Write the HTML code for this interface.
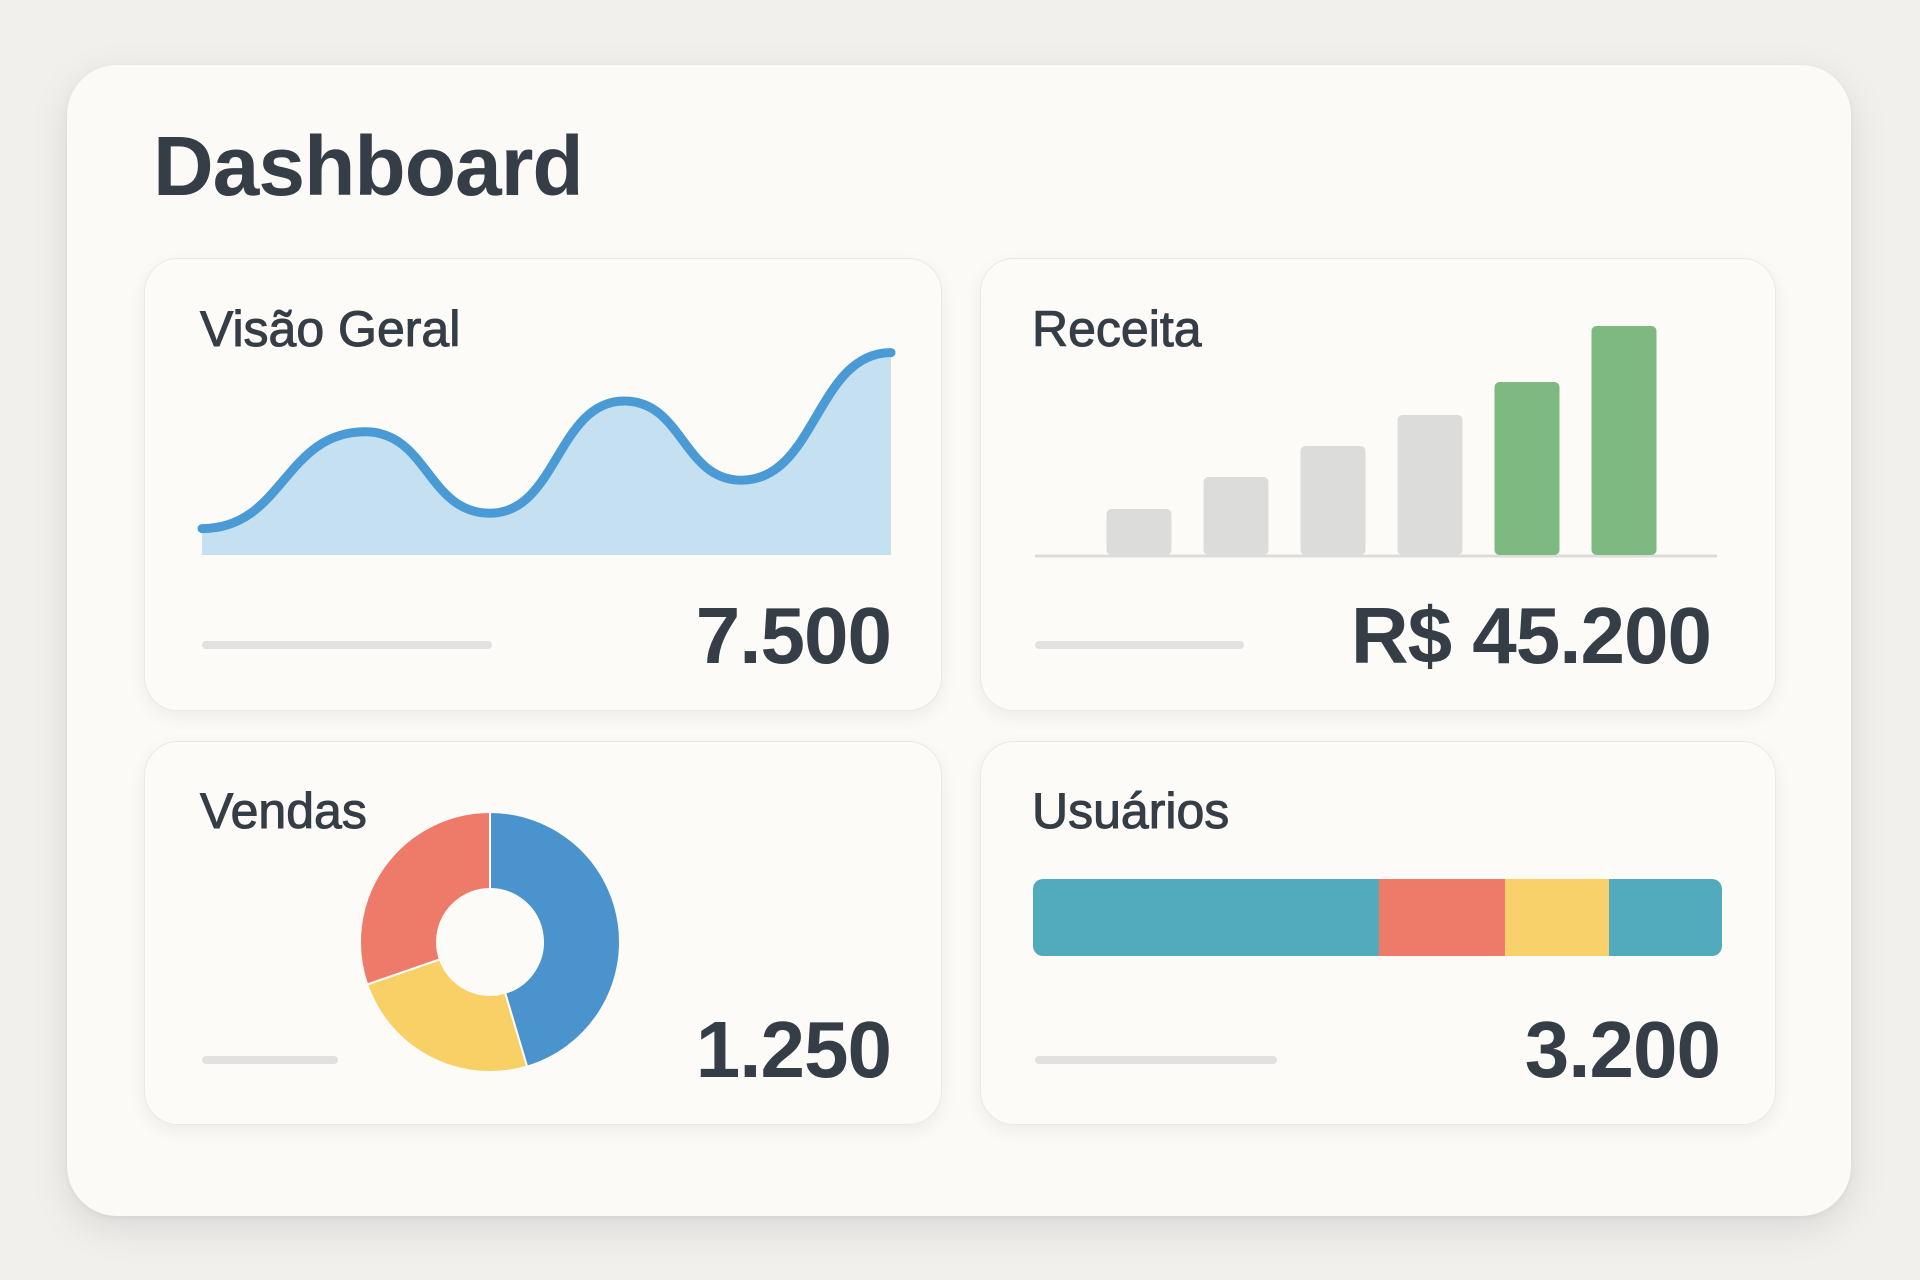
<!DOCTYPE html>
<html><head><meta charset="utf-8"><style>
html,body{margin:0;padding:0}
body{width:1920px;height:1280px;background:#f1f0ed;position:relative;overflow:hidden;font-family:"Liberation Sans",sans-serif;color:#353d46}
.outer{position:absolute;left:67px;top:65px;width:1784px;height:1151px;background:#fbfaf6;border-radius:50px;box-shadow:0 12px 40px rgba(0,0,0,0.10),0 2px 6px rgba(0,0,0,0.05)}
.title{position:absolute;left:153px;top:118px;font-size:84px;font-weight:bold;letter-spacing:-1px;margin:0}
.card{position:absolute;background:#fcfbf8;border-radius:34px;border:1px solid #ebe9e5;box-shadow:0 6px 18px rgba(0,0,0,0.06)}
.ct{position:absolute;font-size:50px;-webkit-text-stroke:1px #353d46;white-space:nowrap}
.val{position:absolute;font-size:80px;font-weight:bold;text-align:right;white-space:nowrap;letter-spacing:-1px}
.pill{position:absolute;height:8px;border-radius:4px;background:#e2e1df}
svg{position:absolute;left:0;top:0}
</style></head><body>
<div class="outer"></div>
<h1 class="title">Dashboard</h1>

<div class="card" style="left:144px;top:258px;width:796px;height:451px"></div>
<div class="card" style="left:980px;top:258px;width:794px;height:451px"></div>
<div class="card" style="left:144px;top:741px;width:796px;height:382px"></div>
<div class="card" style="left:980px;top:741px;width:794px;height:382px"></div>

<div class="ct" style="left:200px;top:300px">Visão Geral</div>
<div class="ct" style="left:1032px;top:300px">Receita</div>
<div class="ct" style="left:200px;top:782px">Vendas</div>
<div class="ct" style="left:1032px;top:782px">Usuários</div>

<div class="pill" style="left:202px;top:641px;width:290px"></div>
<div class="pill" style="left:1035px;top:641px;width:209px"></div>
<div class="pill" style="left:202px;top:1056px;width:136px"></div>
<div class="pill" style="left:1035px;top:1056px;width:242px"></div>

<div class="val" style="right:1029px;top:590px">7.500</div>
<div class="val" style="right:209px;top:590px">R$ 45.200</div>
<div class="val" style="right:1029px;top:1004px">1.250</div>
<div class="val" style="right:200px;top:1004px">3.200</div>

<svg id="chart" width="1920" height="1280"></svg>

<script>
// Overview area chart data
const areaX = [0, 1, 2, 3, 4, 5];
const areaValues = [12, 56, 19, 70, 34, 92];
const areaXPos = [0, 0.237, 0.418, 0.613, 0.783, 1];
// Revenue bar data
const barCategories = ['Jan','Fev','Mar','Abr','Mai','Jun'];
const barValues = [46, 78, 109, 140, 173, 229];
const barHighlight = [false,false,false,false,true,true];
// Sales donut data
const donutLabels = ['A','B','C'];
const donutValues = [45.4, 24.3, 30.3];
const donutColors = ['#4a93cd','#f8d066','#ee7b69'];
// Users stacked bar data
const stackLabels = ['A','B','C','D'];
const stackValues = [50.2, 18.3, 15.1, 16.4];
const stackColors = ['#52aabd','#ee7b69','#f8d16a','#52aabd'];

const NS='http://www.w3.org/2000/svg';
const svg=document.getElementById('chart');
function mk(t,a){const e=document.createElementNS(NS,t);for(const k in a)e.setAttribute(k,a[k]);svg.appendChild(e);return e;}

// area
const ax0=202, ax1=891, ay0=555, ayTop=335;
const xA=i=>ax0+areaXPos[i]*(ax1-ax0);
const yA=v=>ay0-(v/100)*(ay0-ayTop);
let d='M'+xA(0)+','+yA(areaValues[0]);
for(let i=1;i<areaValues.length;i++){
  const x0=xA(i-1),y0=yA(areaValues[i-1]),x1=xA(i),y1=yA(areaValues[i]);
  const dx=(x1-x0)/2;
  d+=' C'+(x0+dx)+','+y0+' '+(x1-dx)+','+y1+' '+x1+','+y1;
}
const fill=mk('path',{d:d+' L'+ax1+','+ay0+' L'+ax0+','+ay0+' Z',fill:'#c5e0f0'});


const line=mk('path',{d:d,fill:'none',stroke:'#4a9ad6','stroke-width':9,'stroke-linecap':'round'});



// bars
const bBase=555, bFirst=1139, bStep=97, bW=65;
const xB=i=>bFirst+i*bStep;
const yB=v=>bBase-v;
const axis=mk('line',{x1:1035,y1:bBase+1,x2:1717,y2:bBase+1,stroke:'#dddcda','stroke-width':3});


barValues.forEach((v,i)=>{
  const r=mk('rect',{x:xB(i)-bW/2,y:yB(v),width:bW,height:v,rx:5,fill:barHighlight[i]?'#7db981':'#dcdcdb'});
  
  
});

// donut
const cx=490, cy=942, R=130, r0=53;
const tot=donutValues.reduce((a,b)=>a+b,0);
let ang=0;
function pt(a,rad){const t=a*Math.PI/180;return [cx+rad*Math.sin(t),cy-rad*Math.cos(t)];}
donutValues.forEach((v,i)=>{
  const a0=ang, a1=ang+v/tot*360; ang=a1;
  const large=(a1-a0)>180?1:0;
  const p0=pt(a0,R),p1=pt(a1,R),q1=pt(a1,r0),q0=pt(a0,r0);
  const s=mk('path',{d:`M${p0} A${R},${R} 0 ${large} 1 ${p1} L${q1} A${r0},${r0} 0 ${large} 0 ${q0} Z`,fill:donutColors[i],stroke:'#fcfbf8','stroke-width':2});
  
  
});

// stacked bar
const sx0=1033, sx1=1722, sy=879, sh=77;
const sTot=stackValues.reduce((a,b)=>a+b,0);
const g=document.createElementNS(NS,'g');svg.appendChild(g);
const cp=mk('clipPath',{id:'sc'});
const cr=document.createElementNS(NS,'rect');
[['x',sx0],['y',sy],['width',sx1-sx0],['height',sh],['rx',10]].forEach(([k,v])=>cr.setAttribute(k,v));
cp.appendChild(cr);
let acc=0;
stackValues.forEach((v,i)=>{
  const x=sx0+acc/sTot*(sx1-sx0); acc+=v;
  const w=v/sTot*(sx1-sx0);
  const r=mk('rect',{x:x,y:sy,width:w+0.5,height:sh,fill:stackColors[i],'clip-path':'url(#sc)'});
  
  
});
</script>
</body></html>
